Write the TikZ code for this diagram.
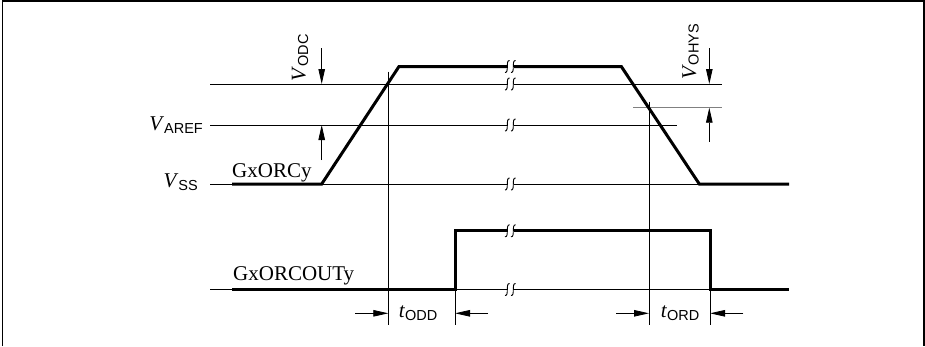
\documentclass[tikz,border=0pt]{standalone}
\usepackage{fontspec}
\setmainfont{Liberation Serif}
\newfontfamily\subfont{Liberation Sans}
\usetikzlibrary{arrows.meta}
\newcommand\lblV[1]{{\fontsize{21}{21}\selectfont\textit{V}}\raisebox{-2.5pt}{\fontsize{14.5}{14.5}\subfont #1}}
\newcommand\lblT[1]{{\fontsize{21}{21}\selectfont\textit{t}}\raisebox{-2.5pt}{\fontsize{14.5}{14.5}\subfont #1}}
\newcommand\brkmark[2]{%
  \fill[white] (507.5,#2-3.2) rectangle (513.5,#2+3.2);
  \foreach \bx in {507.3,513.3}{%
    \draw[line width=0.9pt] (\bx-2.3,#2+6) .. controls (\bx+2.2,#2+6.5) and (\bx-2.2,#2-6.5) .. (\bx+2.3,#2-6);}%
}
\begin{document}
\begin{tikzpicture}[x=1pt,y=-1pt,
  thinline/.style={line width=0.8pt,black},
  thickline/.style={line width=3pt,black,line join=miter},
  grayline/.style={line width=1.4pt,black!50},
  dimarrow/.style={line width=0.8pt,-{Triangle[length=15pt,width=6.5pt]}},
  lbl/.style={inner sep=0pt,font=\fontsize{21}{21}\selectfont}]
\useasboundingbox (0,0) rectangle (925,346);
% frame
\draw[line width=1.5pt] (2.5,346) -- (2.5,1) -- (923.8,1) -- (923.8,346);
% reference levels
\coordinate (odcL) at (210,84);   \coordinate (odcR) at (722,84);
\coordinate (arefL) at (210,125); \coordinate (arefR) at (677,125);
\coordinate (ssL) at (210,184);   \coordinate (ssR) at (699.3,184);
\coordinate (outL) at (210,289.5);\coordinate (outR) at (710,289.5);
\draw[thinline] (odcL) -- (odcR);
\draw[thinline] (arefL) -- (arefR);
\draw[thinline] (ssL) -- (ssR);
\draw[thinline] (outL) -- (outR);
\draw[grayline] (633,107.7) -- (722,107.7);
% vertical markers
\draw[thinline] (388.3,71.7) -- (388.3,325);
\draw[thinline] (649,101.7) -- (649,325);
\draw[thinline] (455,289.5) -- (455,325);
\draw[thinline] (710,289.5) -- (710,325);
% input signal GxORCy
\coordinate (i0) at (232,184);
\coordinate (i1) at (321.7,184);
\coordinate (i2) at (399,66.5);
\coordinate (i3) at (621.3,66.5);
\coordinate (i4) at (699.3,184);
\coordinate (i5) at (789,184);
\draw[thickline] (i0) -- (i1) -- (i2) -- (i3) -- (i4) -- (i5);
% output signal GxORCOUTy
\coordinate (o0) at (232,289.5);
\coordinate (o1) at (455,289.5);
\coordinate (o2) at (455,230.8);
\coordinate (o3) at (710,230.8);
\coordinate (o4) at (710,289.5);
\coordinate (o5) at (789,289.5);
\draw[thickline] (o0) -- (o1) -- (o2) -- (o3) -- (o4) -- (o5);
% break marks
\brkmark{510}{66.5}
\brkmark{510}{84}
\brkmark{510}{125}
\brkmark{510}{184}
\brkmark{510}{230.8}
\brkmark{510}{289.5}
% dimension arrows
\coordinate (a1s) at (321.7,48);  \coordinate (a1e) at (321.7,84);
\coordinate (a2s) at (321.7,160); \coordinate (a2e) at (321.7,125);
\coordinate (a3s) at (709.3,48);  \coordinate (a3e) at (709.3,84);
\coordinate (a4s) at (709.3,141.7); \coordinate (a4e) at (709.3,107.7);
\draw[dimarrow] (a1s) -- (a1e);
\draw[dimarrow] (a2s) -- (a2e);
\draw[dimarrow] (a3s) -- (a3e);
\draw[dimarrow] (a4s) -- (a4e);
\coordinate (t1s) at (355,313.3);  \coordinate (t1e) at (388.3,313.3);
\coordinate (t2s) at (488,313.3);  \coordinate (t2e) at (455,313.3);
\coordinate (t3s) at (616,313.3);  \coordinate (t3e) at (649,313.3);
\coordinate (t4s) at (743.3,313.3);\coordinate (t4e) at (710,313.3);
\draw[dimarrow] (t1s) -- (t1e);
\draw[dimarrow] (t2s) -- (t2e);
\draw[dimarrow] (t3s) -- (t3e);
\draw[dimarrow] (t4s) -- (t4e);
% labels
\node[lbl,anchor=base east] (lAREF) at (203,130.5) {\lblV{AREF}};
\node[lbl,anchor=base east] (lSS) at (198,187.5) {\lblV{SS}};
\node[lbl,anchor=base west] (lin) at (232,177.5) {GxORCy};
\node[lbl,anchor=base west] (lout) at (233,280.5) {GxORCOUTy};
\node[lbl,rotate=90,anchor=base] (lODC) at (305.5,58) {\lblV{ODC}};
\node[lbl,rotate=90,anchor=base] (lOHYS) at (696,52) {\lblV{OHYS}};
\node[lbl,anchor=base] (lODD) at (418,317.5) {\lblT{ODD}};
\node[lbl,anchor=base] (lORD) at (680,317.5) {\lblT{ORD}};
\end{tikzpicture}
\end{document}
